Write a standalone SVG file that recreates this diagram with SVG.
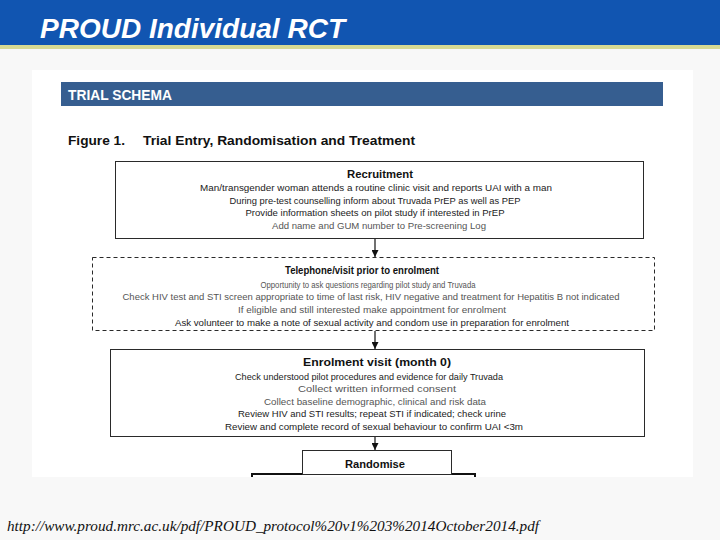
<svg xmlns="http://www.w3.org/2000/svg" width="720" height="540" viewBox="0 0 720 540">
<defs>
<style>
.bx{fill:#fff;stroke:#2a2a2a;stroke-width:1}
.dbx{fill:#fff;stroke:#2a2a2a;stroke-width:1;stroke-dasharray:4 3}
.hd{font-family:"Liberation Sans",Arial,sans-serif;font-weight:bold;font-size:11px;fill:#111;text-anchor:middle}
.tx{font-family:"Liberation Sans",Arial,sans-serif;font-size:9px;fill:#222;text-anchor:middle}
.fa{fill:#555}
.cn{stroke:#111;stroke-width:1.2;fill:none}
.thk{stroke:#111;stroke-width:2;fill:none}
</style>
<marker id="ah" viewBox="0 0 10 10" refX="10" refY="5" markerWidth="7" markerHeight="7" markerUnits="userSpaceOnUse" orient="auto">
<path d="M0,0 L10,5 L0,10 z" fill="#111"/>
</marker>
</defs>
<rect width="720" height="540" fill="#f8f8f8"/>
<rect x="0" y="0" width="720" height="45" fill="#1155b1"/>
<rect x="0" y="45" width="720" height="4" fill="#d7da93"/>
<text x="40" y="38" font-family="Liberation Sans,Arial,sans-serif" font-weight="bold" font-style="italic" font-size="27" fill="#fff" textLength="305" lengthAdjust="spacingAndGlyphs">PROUD Individual RCT</text>
<rect x="32" y="70" width="661" height="407" fill="#fff"/>
<rect x="61" y="82" width="602" height="24" fill="#365e90"/>
<text x="68" y="100" font-family="Liberation Sans,Arial,sans-serif" font-weight="bold" font-size="14" fill="#fff" textLength="104" lengthAdjust="spacingAndGlyphs">TRIAL SCHEMA</text>
<text x="68" y="145" font-family="Liberation Sans,Arial,sans-serif" font-weight="bold" font-size="13.5" fill="#111" textLength="57" lengthAdjust="spacingAndGlyphs">Figure 1.</text>
<text x="143" y="145" font-family="Liberation Sans,Arial,sans-serif" font-weight="bold" font-size="13.5" fill="#111" textLength="272" lengthAdjust="spacingAndGlyphs">Trial Entry, Randomisation and Treatment</text>

<g id="recruitment">
<rect class="bx" x="115.5" y="161.5" width="528" height="77"/>
<text class="hd" x="380" y="178" textLength="66" lengthAdjust="spacingAndGlyphs">Recruitment</text>
<text class="tx" x="376" y="191" textLength="352" lengthAdjust="spacingAndGlyphs">Man/transgender woman attends a routine clinic visit and reports UAI with a man</text>
<text class="tx" x="375" y="204" textLength="291" lengthAdjust="spacingAndGlyphs">During pre-test counselling inform about Truvada PrEP as well as PEP</text>
<text class="tx" x="375" y="216" textLength="259" lengthAdjust="spacingAndGlyphs">Provide information sheets on pilot study if interested in PrEP</text>
<text class="tx fa" x="379" y="229" textLength="214" lengthAdjust="spacingAndGlyphs">Add name and GUM number to Pre-screening Log</text>
</g>

<g id="telephone">
<rect class="dbx" x="92.5" y="257.5" width="562" height="73"/>
<text class="hd" x="362" y="274" textLength="154" lengthAdjust="spacingAndGlyphs">Telephone/visit prior to enrolment</text>
<text class="tx fa" x="368" y="288" textLength="215" lengthAdjust="spacingAndGlyphs">Opportunity to ask questions regarding pilot study and Truvada</text>
<text class="tx fa" x="371" y="300" textLength="497" lengthAdjust="spacingAndGlyphs">Check HIV test and STI screen appropriate to time of last risk, HIV negative and treatment for Hepatitis B not indicated</text>
<text class="tx fa" x="372" y="313" textLength="268" lengthAdjust="spacingAndGlyphs">If  eligible and still interested make appointment for enrolment</text>
<text class="tx" x="372" y="326" textLength="394" lengthAdjust="spacingAndGlyphs">Ask volunteer to make a note of sexual activity and condom use in preparation for enrolment</text>
</g>

<g id="enrolment">
<rect class="bx" x="110.5" y="349.5" width="534" height="87"/>
<text class="hd" x="377" y="366" textLength="148" lengthAdjust="spacingAndGlyphs">Enrolment visit (month 0)</text>
<text class="tx" x="369" y="380" textLength="268" lengthAdjust="spacingAndGlyphs">Check understood pilot procedures and evidence for daily Truvada</text>
<text class="tx fa" x="377" y="392" textLength="158" lengthAdjust="spacingAndGlyphs">Collect  written informed consent</text>
<text class="tx fa" x="375" y="405" textLength="222" lengthAdjust="spacingAndGlyphs">Collect baseline demographic, clinical and risk data</text>
<text class="tx" x="372" y="417" textLength="268" lengthAdjust="spacingAndGlyphs">Review HIV and STI results; repeat STI if indicated; check urine</text>
<text class="tx" x="374" y="430" textLength="298" lengthAdjust="spacingAndGlyphs">Review and complete record of sexual behaviour to confirm UAI &lt;3m</text>
</g>

<g id="randomise">
<rect class="bx" x="302.5" y="450.5" width="149" height="24"/>
<text class="hd" x="375" y="468" textLength="60" lengthAdjust="spacingAndGlyphs">Randomise</text>
</g>

<g id="connectors">
<line class="cn" x1="375" y1="239" x2="375" y2="257" marker-end="url(#ah)"/>
<line class="cn" x1="375" y1="331" x2="375" y2="349" marker-end="url(#ah)"/>
<line class="cn" x1="375" y1="437" x2="375" y2="450" marker-end="url(#ah)"/>
<polyline class="thk" points="252,477 252,474 302,474"/>
<polyline class="thk" points="452,474 475,474 475,477"/>
</g>

<text x="7" y="531" font-family="Liberation Serif,Times New Roman,serif" font-style="italic" font-size="15" fill="#111" textLength="532" lengthAdjust="spacingAndGlyphs">http://www.proud.mrc.ac.uk/pdf/PROUD_protocol%20v1%203%2014October2014.pdf</text>
</svg>
